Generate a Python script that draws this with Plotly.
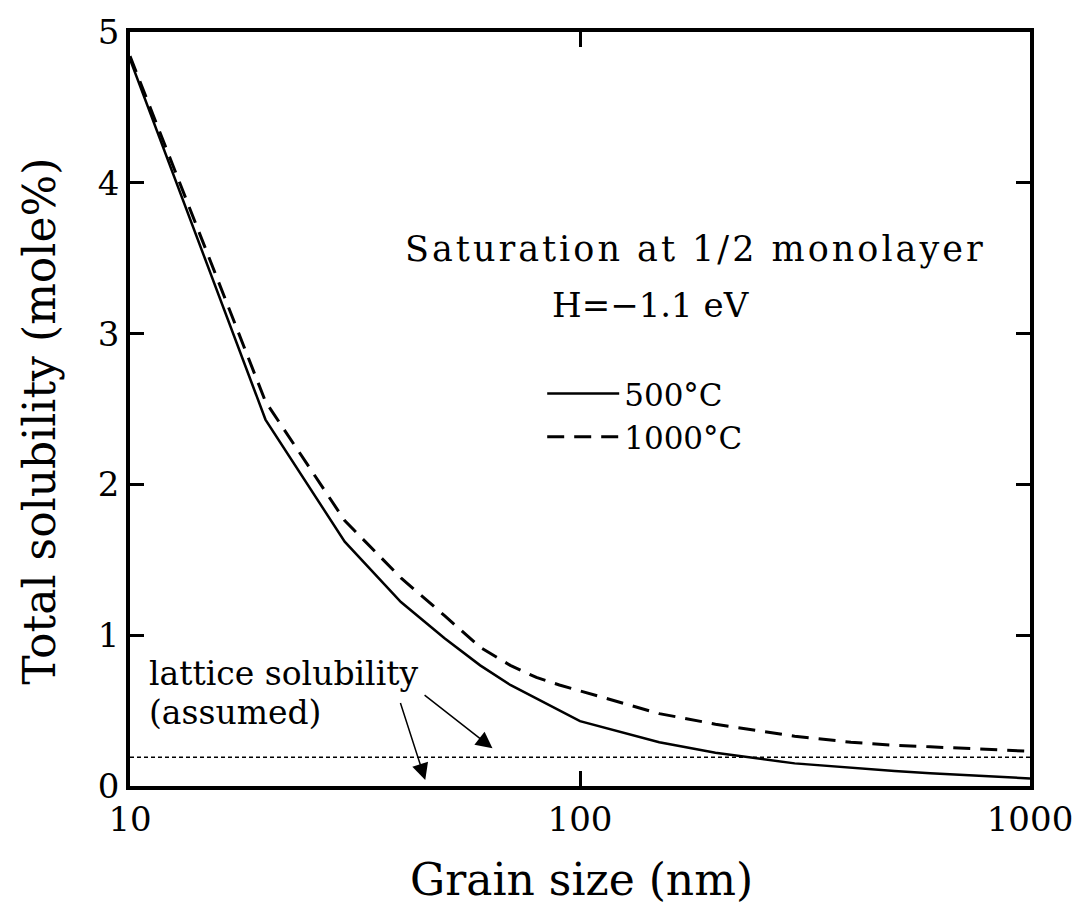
import math
import plotly.graph_objects as go

# ---- data ----
grain_size = [10, 20, 30, 40, 50, 60, 70, 80, 90, 100, 150, 200, 300, 400, 500, 600, 700, 800, 900, 1000]
sol_500C = [4.82, 2.43, 1.62, 1.22, 0.98, 0.80, 0.67, 0.58, 0.50, 0.43, 0.29, 0.22, 0.15, 0.12, 0.10, 0.085, 0.075, 0.065, 0.06, 0.05]
sol_1000C = [4.84, 2.55, 1.76, 1.38, 1.13, 0.92, 0.80, 0.72, 0.67, 0.63, 0.48, 0.41, 0.33, 0.29, 0.27, 0.26, 0.25, 0.24, 0.235, 0.23]
lattice_x = [10, 1000]
lattice_sol = [0.19, 0.19]

x_tick_vals = [10, 100, 1000]
x_tick_text = ["10", "100", "1000"]
x_minor_vals = [20, 30, 40, 50, 60, 70, 80, 90, 200, 300, 400, 500, 600, 700, 800, 900]
y_tick_vals = [0, 1, 2, 3, 4, 5]

# arrow (tail -> head) for "lattice solubility (assumed)"
arrow_tail_x = [39.8, 44.8]
arrow_tail_y = [0.56, 0.61]
arrow_head_x = [45.3, 63.9]
arrow_head_y = [0.04, 0.25]

FONT = "DejaVu Serif"

fig = go.Figure()
fig.add_trace(go.Scatter(x=grain_size, y=sol_500C, mode="lines", name="500°C",
                         line=dict(color="black", width=2.5)))
fig.add_trace(go.Scatter(x=grain_size, y=sol_1000C, mode="lines", name="1000°C",
                         line=dict(color="black", width=3, dash="17px,10px")))
fig.add_trace(go.Scatter(x=lattice_x, y=lattice_sol, mode="lines", showlegend=False,
                         line=dict(color="black", width=1.5, dash="4px,3px")))

fig.update_layout(
    xaxis=dict(type="log", range=[1, 3], tickmode="array",
               tickvals=x_tick_vals, ticktext=x_tick_text,
               ticks="inside", ticklen=15, tickwidth=3, tickcolor="black",
               showline=True, linecolor="black", linewidth=3.5, mirror="ticks",
               showgrid=False, zeroline=False,
               tickfont=dict(family=FONT, size=34, color="black")),
    yaxis=dict(range=[0, 5], tickmode="array", tickvals=y_tick_vals,
               ticks="inside", ticklen=14, tickwidth=2.5, tickcolor="black",
               showline=True, linecolor="black", linewidth=3.5, mirror="ticks",
               showgrid=False, zeroline=False,
               tickfont=dict(family=FONT, size=34, color="black")),
)

# x-axis tick marks (bottom and top), placed through the log x scale
shapes = []
for v, ln in [(t, 15) for t in x_tick_vals[1:-1]] + [(t, 9) for t in x_minor_vals]:
    lx = math.log10(v)
    shapes.append(dict(type="line", xref="x", yref="paper", ysizemode="pixel", yanchor=0,
                       x0=lx, x1=lx, y0=0, y1=ln, layer="above",
                       line=dict(color="black", width=2.5)))
    shapes.append(dict(type="line", xref="x", yref="paper", ysizemode="pixel", yanchor=1,
                       x0=lx, x1=lx, y0=0, y1=-ln, layer="above",
                       line=dict(color="black", width=2.5)))

annotations = [
    dict(text="Grain size (nm)", xref="paper", yref="paper", x=0.502, y=-0.124,
         showarrow=False, font=dict(family=FONT, size=44), xanchor="center", yanchor="middle"),
    dict(text="Total solubility (mole%)", xref="paper", yref="paper", x=-0.1, y=0.483,
         showarrow=False, textangle=-90, font=dict(family=FONT, size=44),
         xanchor="center", yanchor="middle"),
    dict(text='<span style="letter-spacing:3px">Saturation at 1/2 monolayer</span>',
         xref="paper", yref="paper", x=0.3035, y=0.7126, showarrow=False,
         font=dict(family=FONT, size=35), xanchor="left", yanchor="middle"),
    dict(text="H=−1.1 eV", xref="paper", yref="paper", x=0.4669, y=0.6378, showarrow=False,
         font=dict(family=FONT, size=34), xanchor="left", yanchor="middle"),
    dict(text="lattice solubility", xref="paper", yref="paper", x=0.0188, y=0.1496,
         showarrow=False, font=dict(family=FONT, size=33), xanchor="left", yanchor="middle"),
    dict(text="(assumed)", xref="paper", yref="paper", x=0.0188, y=0.0971,
         showarrow=False, font=dict(family=FONT, size=33), xanchor="left", yanchor="middle"),
]
for tx, ty, hx, hy in zip(arrow_tail_x, arrow_tail_y, arrow_head_x, arrow_head_y):
    annotations.append(dict(text="", x=math.log10(hx), y=hy, xref="x", yref="y",
                            ax=math.log10(tx), ay=ty, axref="x", ayref="y",
                            showarrow=True, arrowhead=2, arrowsize=2.2, arrowwidth=1.5,
                            arrowcolor="black"))

fig.update_layout(
    width=1085, height=919,
    margin=dict(l=130, r=49, t=24, b=133),
    paper_bgcolor="white", plot_bgcolor="white",
    font=dict(family=FONT, color="black", size=34),
    showlegend=True,
    legend=dict(x=0.458, y=0.556, xanchor="left", yanchor="top",
                bgcolor="rgba(0,0,0,0)", font=dict(family=FONT, size=31),
                itemwidth=72, tracegroupgap=0),
    shapes=shapes,
    annotations=annotations,
)

fig.write_html("out.html")
